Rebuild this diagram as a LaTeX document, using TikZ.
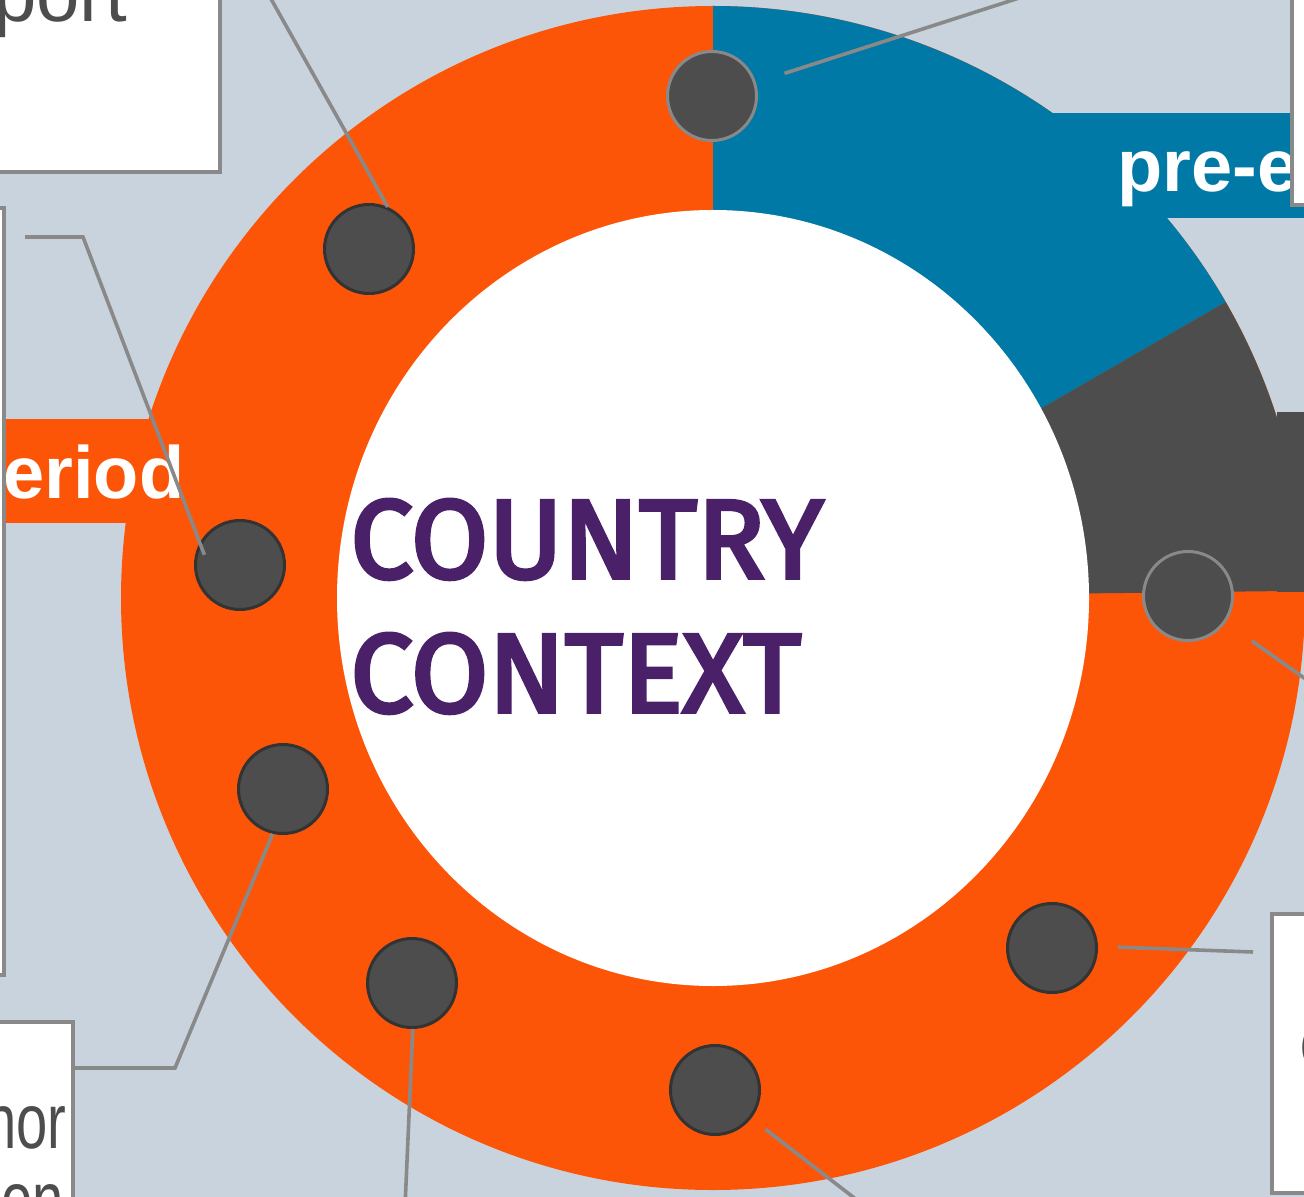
\documentclass[tikz,border=0pt]{standalone}
\usepackage{fontspec}
\setmainfont{Liberation Sans}
\newfontfamily\chalkfont[FakeBold=3.5]{Fira Sans}
\usepackage{tikz}
\usetikzlibrary{calc}

\definecolor{ringorange}{HTML}{FD5508}
\definecolor{ringblue}{HTML}{0079A6}
\definecolor{ringdark}{HTML}{4D4D4D}
\definecolor{backdrop}{HTML}{C9D3DE}
\definecolor{linegrey}{HTML}{898989}
\definecolor{textgrey}{HTML}{4D4D4D}
\definecolor{chalk}{HTML}{4A2068}

\tikzstyle{stopdot} = [circle, minimum size=44.5pt, inner sep=0pt, fill=ringdark, draw=black!80, line width=1.5pt]
\tikzstyle{leader} = [line width=1.8pt, draw=linegrey]
\tikzstyle{labelbox} = [fill=white, draw=linegrey, line width=1.6pt]
\tikzstyle{boxtext} = [inner sep=0pt, text=textgrey, font=\fontsize{39}{46}\selectfont]
\tikzstyle{bandtext} = [inner sep=0pt, text=white, font=\fontsize{37}{44}\selectfont\bfseries]
\tikzstyle{chalktext} = [inner sep=0pt, text=chalk, font=\chalkfont\fontsize{56}{66}\selectfont]

\begin{document}
\begin{tikzpicture}[x=0.5pt, y=-0.5pt]
\useasboundingbox (0,0) rectangle (1304,1197);
\clip (0,0) rectangle (1304,1197);
\fill [backdrop] (0,0) rectangle (1304,1197);

% ring
\coordinate (c) at (713,598);
\fill [ringorange] (c) circle [radius=592];
\fill [ringblue] (c) -- ++(-90:592) arc [start angle=-90, end angle=-30, radius=592] -- cycle;
\fill [ringdark] (c) -- ++(-30:592) arc [start angle=-30, end angle=-0.7, radius=592] -- cycle;
\fill [white] (c) ellipse [x radius=376, y radius=388];

% coloured bands
\fill [ringblue] (1052,113) rectangle (1320,218);
\fill [ringdark] (1277,412) rectangle (1320,592);
\fill [ringorange] (-10,419) rectangle (160,523);

\node (country) [chalktext, anchor=base west] at (350,578) {COUNTRY};
\node (context) [chalktext, anchor=base west] at (350,712) {CONTEXT};

\node (periodtext) [bandtext, anchor=base west] at (3,498) {eriod};
\node (pretext) [bandtext, anchor=base west] at (1117,192) {pre-e};

% label boxes
\draw [labelbox] (-10,-10) rectangle (220,172);
\draw [labelbox] (-10,208) rectangle (4,975);
\draw [labelbox] (-10,1022) rectangle (73,1210);
\draw [labelbox] (1272,914) rectangle (1320,1193);
\draw [labelbox] (1292,-10) rectangle (1320,205);

\node (porttext) [boxtext, anchor=base east] at (128,22) {port};
\node (nortext) [boxtext, anchor=base east] at (67,1148) {\scalebox{0.72}[1]{nor}};
\node (ontext) [boxtext, anchor=base east] at (64,1226) {\scalebox{0.72}[1]{on}};
\node (ctext) [boxtext, anchor=base west] at (1299,1068) {c};

% stops on the ring
\node (dtop) [stopdot, draw=linegrey] at (712,96) {};
\node (dtl) [stopdot] at (369,249) {};
\node (dleft) [stopdot] at (240,565) {};
\node (dbl) [stopdot] at (283,789) {};
\node (dbot1) [stopdot] at (412,983) {};
\node (dbot2) [stopdot] at (715,1090) {};
\node (dbr) [stopdot] at (1052,948) {};
\node (dright) [stopdot, draw=linegrey] at (1188,596) {};

% leader lines
\coordinate (e1) at (1044,-10);
\coordinate (e2) at (266,-10);
\coordinate (k3) at (83,237);
\coordinate (e3) at (25,237);
\coordinate (k4) at (175,1068);
\coordinate (e4) at (75,1068);
\coordinate (e5) at (405,1207);
\coordinate (e6) at (866,1207);
\coordinate (e7) at (1253,952);
\coordinate (e8) at (1314,685);
\draw [leader, shorten <=15pt] (dtop.17) -- (e1);
\draw [leader] (dtl.66) -- (e2);
\draw [leader, shorten <=-6.5pt] (dleft.151) -- (k3) -- (e3);
\draw [leader] (dbl.257) -- (k4) -- (e4);
\draw [leader] (dbot1.271) -- (e5);
\draw [leader, shorten <=9pt] (dbot2.322) -- (e6);
\draw [leader, shorten <=10pt] (dbr.2) -- (e7);
\draw [leader, shorten <=16pt] (dright.325) -- (e8);
\end{tikzpicture}
\end{document}
